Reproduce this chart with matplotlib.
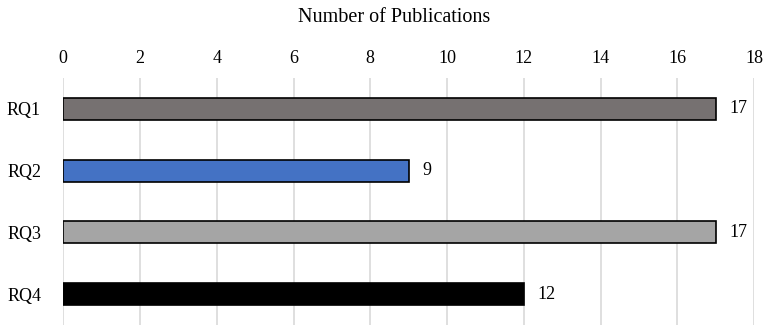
import matplotlib
matplotlib.use("Agg")
import matplotlib.pyplot as plt

categories = ["RQ1", "RQ2", "RQ3", "RQ4"]
values = [17, 9, 17, 12]
colors = ["#767171", "#4472C4", "#A5A5A5", "#000000"]
ticks = [0, 2, 4, 6, 8, 10, 12, 14, 16, 18]

plt.rcParams['font.family'] = ['Liberation Serif', 'DejaVu Serif']
plt.rcParams['font.size'] = 13

W, H = 765, 326
fig = plt.figure(figsize=(W / 100, H / 100), dpi=100)
left_px, right_px, top_px, bottom_px = 63.3, 754, 78, 325
ax = fig.add_axes([left_px / W, 1 - bottom_px / H, (right_px - left_px) / W, (bottom_px - top_px) / H])

ypos = list(range(len(categories)))
ax.barh(ypos, values, height=0.36, color=colors, edgecolor="black", linewidth=1.2, zorder=3)
for y, v in zip(ypos, values):
    ax.annotate(str(v), xy=(v, y), xytext=(10, 0), textcoords="offset points",
                va="center", ha="left", fontsize=13)

ax.set_xlim(0, 18)
ax.set_ylim(3.5, -0.5)
ax.set_xticks(ticks)
ax.set_yticks(ypos)
ax.set_yticklabels(categories)
ax.xaxis.tick_top()
ax.tick_params(axis="x", length=0, pad=8)
ax.tick_params(axis="y", length=0, pad=16)
for s in ax.spines.values():
    s.set_visible(False)
ax.grid(axis="x", color="#D9D9D9", linewidth=1.2, zorder=0)
ax.set_axisbelow(True)

fig.text(394.5 / W, 1 - 22 / H, "Number of Publications", ha="center", va="baseline", fontsize=14.5)

fig.savefig("out.png", dpi=100)
